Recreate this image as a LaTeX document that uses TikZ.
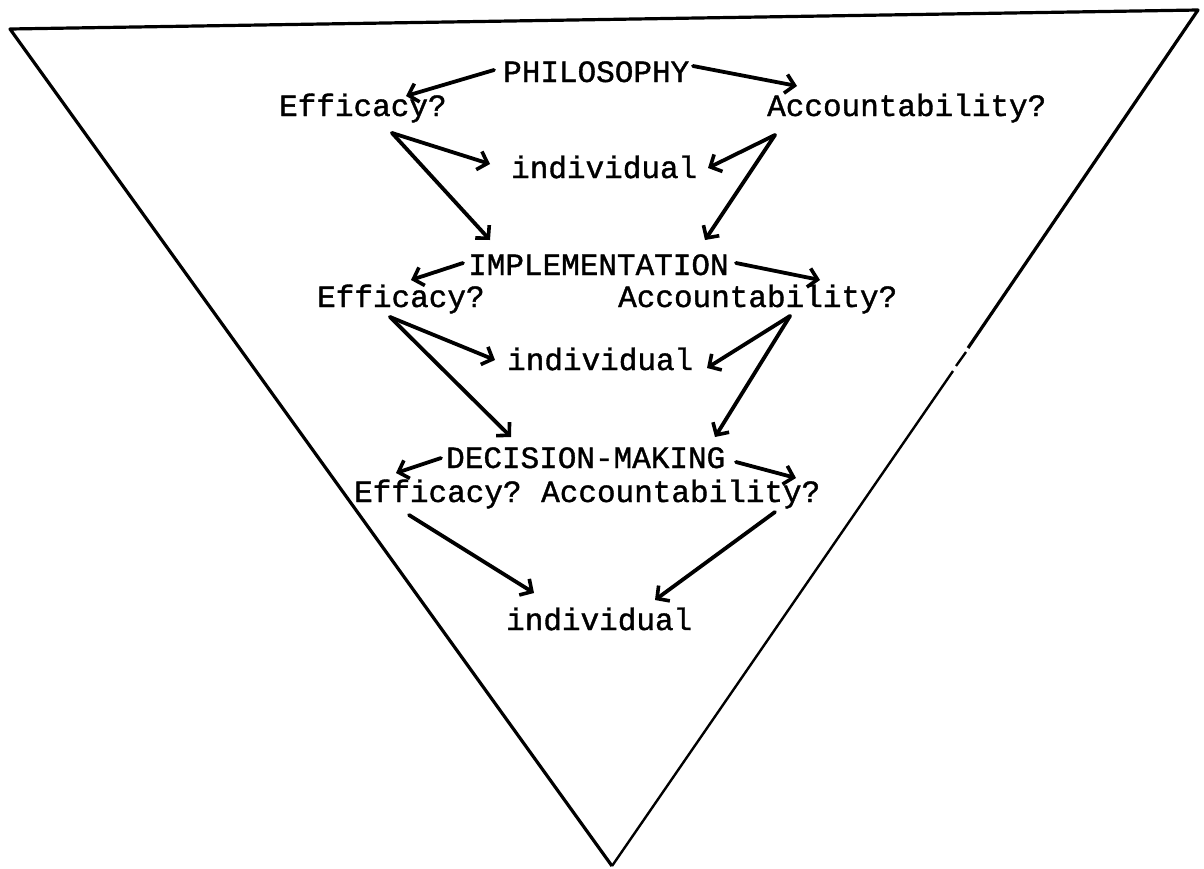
\documentclass[tikz,border=0pt]{standalone}
\usepackage{fontspec}
\newfontfamily\tw[FakeBold=1.2]{Liberation Mono}
\usetikzlibrary{arrows.meta}
\begin{document}
\begin{tikzpicture}[x=1pt,y=-1pt,
  lbl/.style={font=\tw\fontsize{31}{31}\selectfont, inner sep=0pt, anchor=base west},
  arr/.style={line width=3.8pt, line cap=round, -{Straight Barb[length=9pt,width=19pt,line width=3.6pt]}},
  edgeline/.style={line width=3.2pt, line join=round},
  thinedge/.style={line width=2.4pt}]
\useasboundingbox (0,0) rectangle (1204,868);
% triangle
\coordinate (tl) at (10,29);
\coordinate (tr) at (1198,10);
\coordinate (apex) at (612,866);
\coordinate (r1) at (968,348);
\coordinate (r2) at (966,352);
\coordinate (r3) at (956,366);
\coordinate (r4) at (953,371);
\draw[edgeline] (r1) -- (tr) -- (tl) -- (apex);
\draw[thinedge] (r2) -- (r3);
\draw[thinedge] (r4) -- (apex);
% texts
\node[lbl] (phil) at (503,82) {PHILOSOPHY};
\node[lbl] (eff1) at (279,116) {Efficacy?};
\node[lbl] (acc1) at (767,116) {Accountability?};
\node[lbl] (ind1) at (511,178) {individual};
\node[lbl] (impl) at (468,275) {IMPLEMENTATION};
\node[lbl] (eff2) at (317,307) {Efficacy?};
\node[lbl] (acc2) at (618,307) {Accountability?};
\node[lbl] (ind2) at (507,370) {individual};
\node[lbl] (dec) at (446,468) {DECISION-MAKING};
\node[lbl] (eff3) at (354,502) {Efficacy?};
\node[lbl] (acc3) at (541,502) {Accountability?};
\node[lbl] (ind3) at (506,630) {individual};
% level 1 connectors
\coordinate (p1l) at (494,70);
\coordinate (e1tip) at (406,96);
\coordinate (p1r) at (693,66);
\coordinate (a1tip) at (797,86);
\coordinate (e1j) at (392,133);
\coordinate (i1l) at (490,164);
\coordinate (m1l) at (490,240);
\coordinate (a1j) at (775,135);
\coordinate (i1r) at (708,168);
\coordinate (m1r) at (705,240);
\draw[arr] (p1l) -- (e1tip);
\draw[arr] (p1r) -- (a1tip);
\draw[arr] (e1j) -- (i1l);
\draw[arr] (e1j) -- (m1l);
\draw[arr] (a1j) -- (i1r);
\draw[arr] (a1j) -- (m1r);
% level 2 connectors
\coordinate (m2l) at (463,263);
\coordinate (e2tip) at (411,280);
\coordinate (m2r) at (736,263);
\coordinate (a2tip) at (820,280);
\coordinate (e2j) at (390,317);
\coordinate (i2l) at (495,360);
\coordinate (d2l) at (511,437);
\coordinate (a2j) at (790,316);
\coordinate (i2r) at (707,368);
\coordinate (d2r) at (715,437);
\draw[arr] (m2l) -- (e2tip);
\draw[arr] (m2r) -- (a2tip);
\draw[arr] (e2j) -- (i2l);
\draw[arr] (e2j) -- (d2l);
\draw[arr] (a2j) -- (i2r);
\draw[arr] (a2j) -- (d2r);
% level 3 connectors
\coordinate (d3l) at (441,458);
\coordinate (e3tip) at (396,473);
\coordinate (d3r) at (736,462);
\coordinate (a3tip) at (796,478);
\coordinate (e3s) at (409,515);
\coordinate (i3l) at (534,593);
\coordinate (a3s) at (775,512);
\coordinate (i3r) at (655,600);
\draw[arr] (d3l) -- (e3tip);
\draw[arr] (d3r) -- (a3tip);
\draw[arr] (e3s) -- (i3l);
\draw[arr] (a3s) -- (i3r);
\end{tikzpicture}
\end{document}
